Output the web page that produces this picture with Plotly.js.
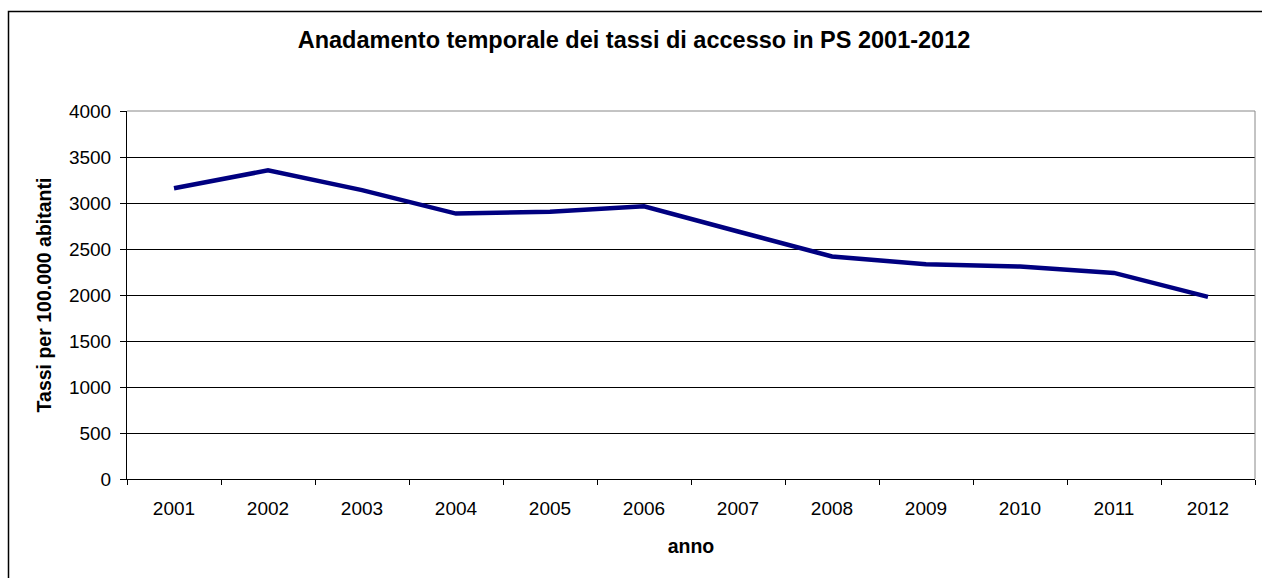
<!DOCTYPE html>
<html>
<head>
<meta charset="utf-8">
<script src="https://cdn.plot.ly/plotly-3.0.1.min.js"></script>
<style>
html,body{margin:0;padding:0;background:#fff;}
#chart{width:1262px;height:578px;}
</style>
</head>
<body>
<div id="chart"></div>
<script>
const years = ["2001","2002","2003","2004","2005","2006","2007","2008","2009","2010","2011","2012"];
const tassi = [3160, 3355, 3140, 2885, 2905, 2965, 2690, 2418, 2335, 2310, 2240, 1980];
const yTicks = [0, 500, 1000, 1500, 2000, 2500, 3000, 3500, 4000];

const W = 1262, H = 578;
const m = {l: 127, r: 7, t: 111, b: 99};
const pw = W - m.l - m.r, ph = H - m.t - m.b;
const px = v => (v - m.l) / pw;
const py = v => 1 - (v - m.t) / ph;

const trace = {
  x: years, y: tassi, type: 'scatter', mode: 'lines',
  line: {color: '#000080', width: 4.5},
  hoverinfo: 'x+y'
};

const layout = {
  width: W, height: H,
  margin: m,
  paper_bgcolor: '#fff', plot_bgcolor: '#fff',
  showlegend: false,
  font: {family: 'Liberation Sans, Arial, sans-serif', size: 19, color: '#000'},
  title: {
    text: '<b>Anadamento temporale dei tassi di accesso in PS 2001-2012</b>',
    font: {size: 23.5, family: 'Liberation Sans, Arial, sans-serif', color: '#000'},
    xref: 'container', yref: 'container', x: 634 / W, y: 1 - 40 / H,
    xanchor: 'center', yanchor: 'middle'
  },
  xaxis: {
    type: 'category',
    range: [-0.5, 11.5],
    tickvals: years,
    ticks: 'outside', ticklen: 5, tickcolor: '#000', tickwidth: 1,
    tickson: 'boundaries',
    showgrid: false, zeroline: false,
    showline: true, linecolor: '#000', linewidth: 1,
    ticklabelstandoff: 12,
    tickfont: {size: 19},
    title: {text: '<b>anno</b>', font: {size: 19.5}, standoff: 21}
  },
  yaxis: {
    range: [0, 4000],
    tickvals: yTicks,
    ticks: 'outside', ticklen: 6, tickcolor: '#000', tickwidth: 1,
    showgrid: true, gridcolor: '#000', gridwidth: 1,
    zeroline: false,
    showline: true, linecolor: '#000', linewidth: 1,
    ticklabelstandoff: 5,
    tickfont: {size: 19},
    title: {text: '<b>Tassi per 100.000 abitanti</b>', font: {size: 19.5}, standoff: 12}
  },
  shapes: [
    {type: 'line', xref: 'paper', yref: 'paper', x0: 0, x1: 1, y0: 1, y1: 1, line: {color: '#888', width: 1}},
    {type: 'line', xref: 'paper', yref: 'paper', x0: 1, x1: 1, y0: 0, y1: 1, line: {color: '#888', width: 1}},
    {type: 'rect', xref: 'paper', yref: 'paper', x0: px(8.5), x1: px(1275), y0: py(11.5), y1: py(590), line: {color: '#000', width: 1.5}, fillcolor: 'rgba(0,0,0,0)', layer: 'below'}
  ]
};

Plotly.newPlot('chart', [trace], layout, {displayModeBar: false, staticPlot: true});
</script>
</body>
</html>
